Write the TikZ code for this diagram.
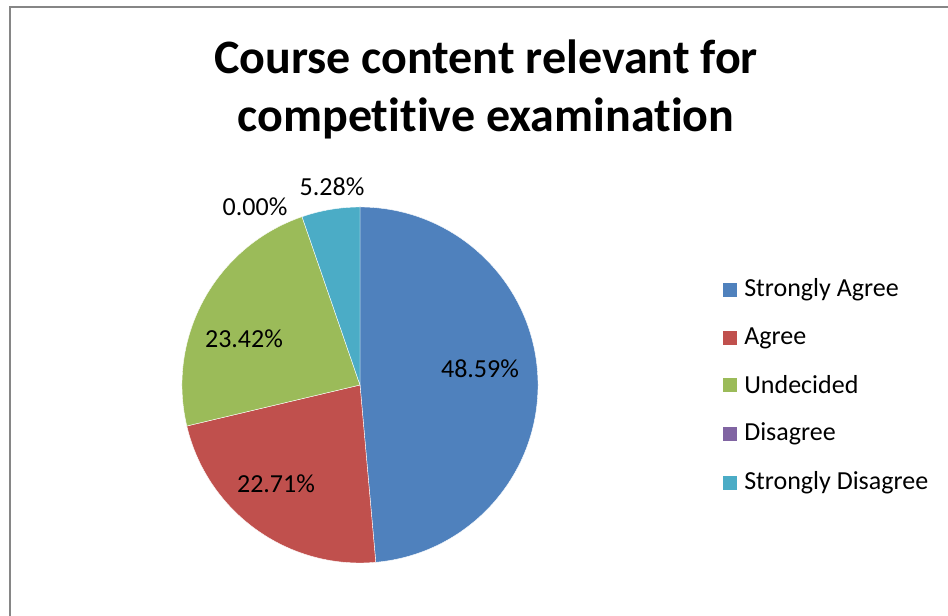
\documentclass[tikz,border=0pt]{standalone}
\usepackage{fontspec}
\setmainfont{Carlito}[Ligatures=NoCommon]
\definecolor{sagree}{HTML}{4F81BD}
\definecolor{agree}{HTML}{C0504D}
\definecolor{undecided}{HTML}{9BBB59}
\definecolor{disagree}{HTML}{8064A2}
\definecolor{sdisagree}{HTML}{4BACC6}
\definecolor{frame}{HTML}{868686}
\tikzset{
  slice/.style={draw=white, line width=0.3pt},
  pctlabel/.style={font=\fontsize{19.5}{23}\selectfont, inner sep=0pt},
  legkey/.style={minimum size=10.5pt, inner sep=0pt},
  legtext/.style={font=\fontsize{19.5}{23}\selectfont, anchor=west, inner sep=0pt}
}
\begin{document}
\begin{tikzpicture}[x=0.75pt, y=0.75pt]

    % Canvas of the chart, in pixels, origin at the lower left
    \useasboundingbox (0,0) rectangle (948,616);

    % Chart frame: only its left and top sides are visible
    \draw[frame, line width=1.5pt] (9.5,0) -- (9.5,608.5) -- (948,608.5);

    % Title
    \node[font=\fontsize{36}{43.5}\selectfont\bfseries, align=center] (title) at (486,527)
        {Course content relevant for\\competitive examination};

    % Centre of the pie
    \coordinate (O) at (360,231);

    % Slices, clockwise from the top
    \fill[sagree, slice] (O) -- ++(90:178) arc (90:-84.92:178) -- cycle;
    \fill[agree, slice] (O) -- ++(-84.92:178) arc (-84.92:-166.68:178) -- cycle;
    \fill[undecided, slice] (O) -- ++(-166.68:178) arc (-166.68:-250.99:178) -- cycle;
    \fill[sdisagree, slice] (O) -- ++(-250.99:178) arc (-250.99:-270:178) -- cycle;

    % Percentage labels
    \node[pctlabel] (lsa) at (480,247) {48.59\%};
    \node[pctlabel] (lag) at (276,132) {22.71\%};
    \node[pctlabel] (lun) at (244,277) {23.42\%};
    \node[pctlabel] (ldi) at (255,409) {0.00\%};
    \node[pctlabel] (lsd) at (332,429) {5.28\%};

    % Legend
    \node[legkey, fill=sagree] (ksa) at (730,326) {};
    \node[legkey, fill=agree] (kag) at (730,278) {};
    \node[legkey, fill=undecided] (kun) at (730,231) {};
    \node[legkey, fill=disagree] (kdi) at (730,182) {};
    \node[legkey, fill=sdisagree] (ksd) at (730,133) {};

    \node[legtext] (tsa) at (744,326) {Strongly Agree};
    \node[legtext] (tag) at (744,278) {Agree};
    \node[legtext] (tun) at (744,231) {Undecided};
    \node[legtext] (tdi) at (744,182) {Disagree};
    \node[legtext] (tsd) at (744,133) {Strongly Disagree};

\end{tikzpicture}
\end{document}
